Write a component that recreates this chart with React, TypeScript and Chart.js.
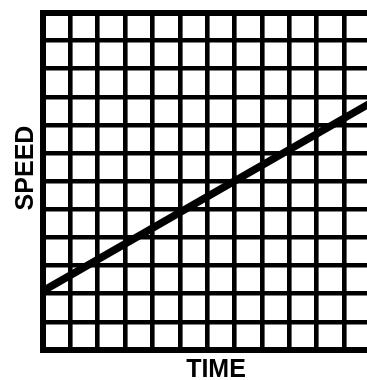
import React, { useEffect, useRef } from "react";
import { Chart, registerables } from "chart.js";

Chart.register(...registerables);

// Data
const timeValues = [0, 12];
const speedValues = [2.1, 8.8];
const xAxisLabel = "TIME";
const yAxisLabel = "SPEED";
const gridMin = 0;
const gridMax = 12;

const labelPlugin = {
  id: "axisLabels",
  afterDraw(chart: any) {
    const { ctx, chartArea } = chart;
    const { left, top, bottom } = chartArea;
    ctx.save();
    ctx.fillStyle = "#000";
    ctx.font = "bold 25px 'Liberation Sans', Arial, sans-serif";
    ctx.textAlign = "center";
    ctx.textBaseline = "alphabetic";
    // x label
    ctx.fillText(xAxisLabel, left + 173, bottom + 27);
    // y label
    ctx.translate(left - 19, top + 155.5);
    ctx.rotate(-Math.PI / 2);
    ctx.fillText(yAxisLabel, 0, 9);
    ctx.restore();
  },
};

export default function App() {
  const ref = useRef<HTMLCanvasElement>(null);

  useEffect(() => {
    if (!ref.current) return;
    const edge = (c: any) => (c.index === 0 || c.index === gridMax - gridMin ? 6 : 4.6);
    const chart = new Chart(ref.current, {
      type: "line",
      data: {
        datasets: [
          {
            data: timeValues.map((t, i) => ({ x: t, y: speedValues[i] })),
            borderColor: "#000",
            borderWidth: 7.5,
            pointRadius: 0,
            borderCapStyle: "butt",
            fill: false,
          },
        ],
      },
      options: {
        animation: false,
        responsive: false,
        maintainAspectRatio: false,
        layout: { padding: { left: 43, top: 12.5, right: 8.5, bottom: 30 } },
        plugins: { legend: { display: false }, tooltip: { enabled: false } },
        scales: {
          x: {
            type: "linear",
            min: gridMin,
            max: gridMax,
            ticks: { display: false, stepSize: 1 },
            grid: { color: "#000", lineWidth: edge, drawTicks: false },
            border: { display: true, color: "#000", width: 6 },
          },
          y: {
            type: "linear",
            min: gridMin,
            max: gridMax,
            ticks: { display: false, stepSize: 1 },
            grid: { color: "#000", lineWidth: edge, drawTicks: false },
            border: { display: true, color: "#000", width: 6 },
          },
        },
      },
      plugins: [labelPlugin],
    });
    return () => chart.destroy();
  }, []);

  return (
    <>
      <style>{`html,body{margin:0;padding:0;overflow:hidden;background:#fff}`}</style>
      <div style={{ position: "relative", width: 380, height: 380 }}>
        <canvas ref={ref} width={380} height={380} style={{ display: "block" }} />
      </div>
    </>
  );
}
